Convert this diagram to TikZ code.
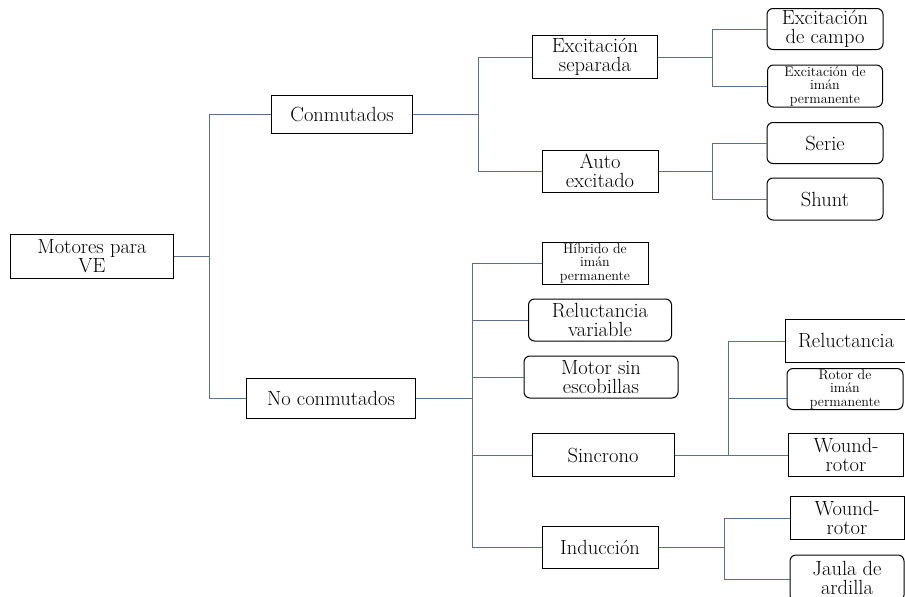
\documentclass[tikz,border=0pt]{standalone}
\definecolor{linkblue}{RGB}{88,112,145}
\begin{document}
\begin{tikzpicture}[x=1pt, y=-1pt, line width=1pt,
  main node/.style={rectangle,draw,align=center,inner sep=0pt,font=\fontsize{20.5}{19}\selectfont},
  round node/.style={main node,rounded corners=6pt},
  small node/.style={font=\fontsize{14}{13.5}\selectfont},
  link/.style={draw=linkblue,line width=0.9pt}]
\useasboundingbox (0,0) rectangle (905,597);
\begin{scope}
\node[main node,minimum width=163,minimum height=44] (mot) at (92,256) {Motores para\\VE};
\node[main node,minimum width=141,minimum height=38] (conm) at (342,114) {Conmutados};
\node[main node,minimum width=169,minimum height=40] (noconm) at (331,398) {No conmutados};
% conmutados
\node[main node,minimum width=125,minimum height=43] (sep) at (595,57) {Excitaci\'on\\separada};
\node[main node,minimum width=116,minimum height=42] (auto) at (600,171) {Auto\\excitado};
\node[round node,minimum width=116,minimum height=41] (campo) at (825,29) {Excitaci\'on\\de campo};
\node[round node,small node,minimum width=115,minimum height=42] (iman) at (825,86) {Excitaci\'on de\\im\'an\\permanente};
\node[round node,minimum width=116,minimum height=41] (serie) at (825,143) {Serie};
\node[round node,minimum width=116,minimum height=42] (shunt) at (825,199) {Shunt};
% no conmutados
\node[main node,small node,minimum width=106,minimum height=42] (hibr) at (595,263) {H\'ibrido de\\im\'an\\permanente};
\node[round node,minimum width=143,minimum height=42] (relvar) at (600,320) {Reluctancia\\variable};
\node[round node,minimum width=154,minimum height=42] (brush) at (601,377) {Motor sin\\escobillas};
\node[main node,minimum width=142,minimum height=43] (sinc) at (603,455) {Sincrono};
\node[main node,minimum width=116,minimum height=42] (induc) at (600,547) {Inducci\'on};
\node[main node,minimum width=135,minimum height=43,text width=120,align=left] (rel) at (853,341) {\hspace*{5pt}Reluctancia};
\node[round node,small node,minimum width=116,minimum height=41] (rotor) at (845,389) {Rotor de\\im\'an\\permanente};
\node[main node,minimum width=115,minimum height=43] (wsinc) at (846,455) {Wound-\\rotor};
\node[main node,minimum width=114,minimum height=43] (wind) at (847,518) {Wound-\\rotor};
\node[round node,minimum width=114,minimum height=46] (jaula) at (847,578) {Jaula de\\ardilla};
\end{scope}
\begin{scope}
\coordinate (j1) at (209,256);
\coordinate (j2) at (478,114);
\coordinate (j3) at (472,398);
\coordinate (j4) at (712,57);
\coordinate (j5) at (712,171);
\coordinate (j6) at (728,455);
\coordinate (j7) at (724,547);
\draw[link] (mot.east) -- (j1);
\draw[link] (j1) |- (conm.west);
\draw[link] (j1) |- (noconm.west);
\draw[link] (conm.east) -- (j2);
\draw[link] (j2) |- (sep.west);
\draw[link] (j2) |- (auto.west);
\draw[link] (sep.east) -- (j4);
\draw[link] (j4) |- (campo.west);
\draw[link] (j4) |- (iman.west);
\draw[link] (auto.east) -- (j5);
\draw[link] (j5) |- (serie.west);
\draw[link] (j5) |- (shunt.west);
\draw[link] (noconm.east) -- (j3);
\draw[link] (j3) |- (hibr.west);
\draw[link] (j3) |- (relvar.west);
\draw[link] (j3) |- (brush.west);
\draw[link] (j3) |- (sinc.west);
\draw[link] (j3) |- (induc.west);
\draw[link] (sinc.east) -- (j6);
\draw[link] (j6) |- (rel.west);
\draw[link] (j6) |- ([yshift=-9pt]rotor.west);
\draw[link] (j6) -- (wsinc.west);
\draw[link] (induc.east) -- (j7);
\draw[link] (j7) |- (wind.west);
\draw[link] (j7) |- ([yshift=-1pt]jaula.west);
\end{scope}
\end{tikzpicture}
\end{document}
